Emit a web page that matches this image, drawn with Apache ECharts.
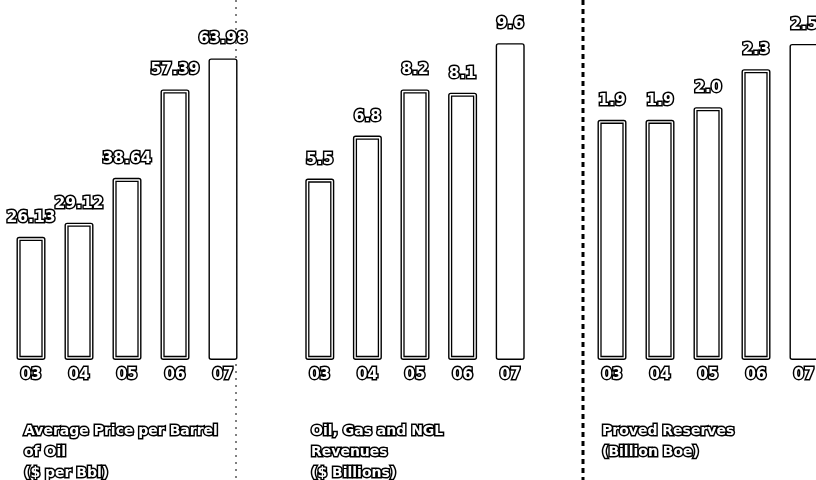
<!DOCTYPE html>
<html>
<head>
<meta charset="utf-8">
<script src="https://cdn.jsdelivr.net/npm/echarts@6/dist/echarts.min.js"></script>
<style>
  html, body { margin: 0; padding: 0; background: #fff; }
  #chart { width: 816px; height: 480px; }
</style>
</head>
<body>
<div id="chart"></div>
<script>
const years = ["03", "04", "05", "06", "07"]
const oilPrice = [26.13, 29.12, 38.64, 57.39, 63.98]
const revenues = [5.5, 6.8, 8.2, 8.1, 9.6]
const reserves = [1.9, 1.9, 2.0, 2.3, 2.5]
const priceLabels = ["26.13", "29.12", "38.64", "57.39", "63.98"]
const revenueLabels = ["5.5", "6.8", "8.2", "8.1", "9.6"]
const reserveLabels = ["1.9", "1.9", "2.0", "2.3", "2.5"]

const FONT = "'DejaVu Sans', sans-serif"
const outlined = {
  color: "#fff",
  textBorderColor: "#000",
  textBorderWidth: 3,
  fontFamily: FONT,
  fontWeight: "bold",
}

// third panel runs off the right edge of the page, as in the scan
const panels = [
  { left: 7, width: 240, max: 70, values: oilPrice, labels: priceLabels,
    title: "Average Price per Barrel\nof Oil\n($ per Bbl)", titleLeft: 19 },
  { left: 296, width: 238, max: 10, values: revenues, labels: revenueLabels,
    title: "Oil, Gas and NGL\nRevenues\n($ Billions)", titleLeft: 306 },
  { left: 588, width: 240, max: 2.61, values: reserves, labels: reserveLabels,
    title: "Proved Reserves\n(Billion Boe)", titleLeft: 597 },
]

const grid = []
const xAxis = []
const yAxis = []
const series = []
const title = []

panels.forEach((p, i) => {
  grid.push({ left: p.left, width: p.width, top: 30, height: 330, outerBoundsMode: "none" })
  xAxis.push({
    type: "category",
    gridIndex: i,
    data: years,
    axisLine: { show: false },
    axisTick: { show: false },
    axisLabel: { ...outlined, fontSize: 15, margin: 8 },
  })
  yAxis.push({ type: "value", gridIndex: i, min: 0, max: p.max, show: false })

  // outer bar with value label
  series.push({
    type: "bar",
    xAxisIndex: i,
    yAxisIndex: i,
    data: p.values,
    barWidth: 29,
    itemStyle: { color: "#fff", borderColor: "#000", borderWidth: 1.4, borderRadius: 2 },
    label: {
      show: true,
      position: "top",
      distance: 11,
      ...outlined,
      fontSize: 15.5,
      formatter: (params) => p.labels[params.dataIndex],
    },
    silent: true,
    animation: false,
  })

  // inner outline for the double-ruled bars (03-06)
  series.push({
    type: "custom",
    xAxisIndex: i,
    yAxisIndex: i,
    z: 5,
    encode: { x: 0, y: 1 },
    data: p.values.map((v, k) => [k, v]),
    renderItem: (params, api) => {
      if (params.dataIndex > 3) return null
      const top = api.coord([api.value(0), api.value(1)])
      const base = api.coord([api.value(0), 0])
      return {
        type: "rect",
        shape: { x: top[0] - 11, y: top[1] + 3.5, width: 22, height: base[1] - top[1] - 7 },
        style: { fill: "transparent", stroke: "#000", lineWidth: 1.3 },
      }
    },
    silent: true,
    animation: false,
  })

  title.push({
    text: p.title,
    left: p.titleLeft,
    top: 416,
    textStyle: { ...outlined, fontSize: 14, lineHeight: 21 },
  })
})

const chart = echarts.init(document.getElementById("chart"))
chart.setOption({
  backgroundColor: "#fff",
  animation: false,
  title,
  grid,
  xAxis,
  yAxis,
  series,
  graphic: [
    // scanner streak down the left edge of the third panel
    { type: "line", shape: { x1: 583, y1: 0, x2: 583, y2: 480 },
      style: { stroke: "#000", lineWidth: 3, lineDash: [5, 4] }, silent: true },
    { type: "line", shape: { x1: 236, y1: 0, x2: 236, y2: 480 },
      style: { stroke: "#000", lineWidth: 1, lineDash: [2, 5] }, silent: true },
  ],
})
</script>
</body>
</html>
